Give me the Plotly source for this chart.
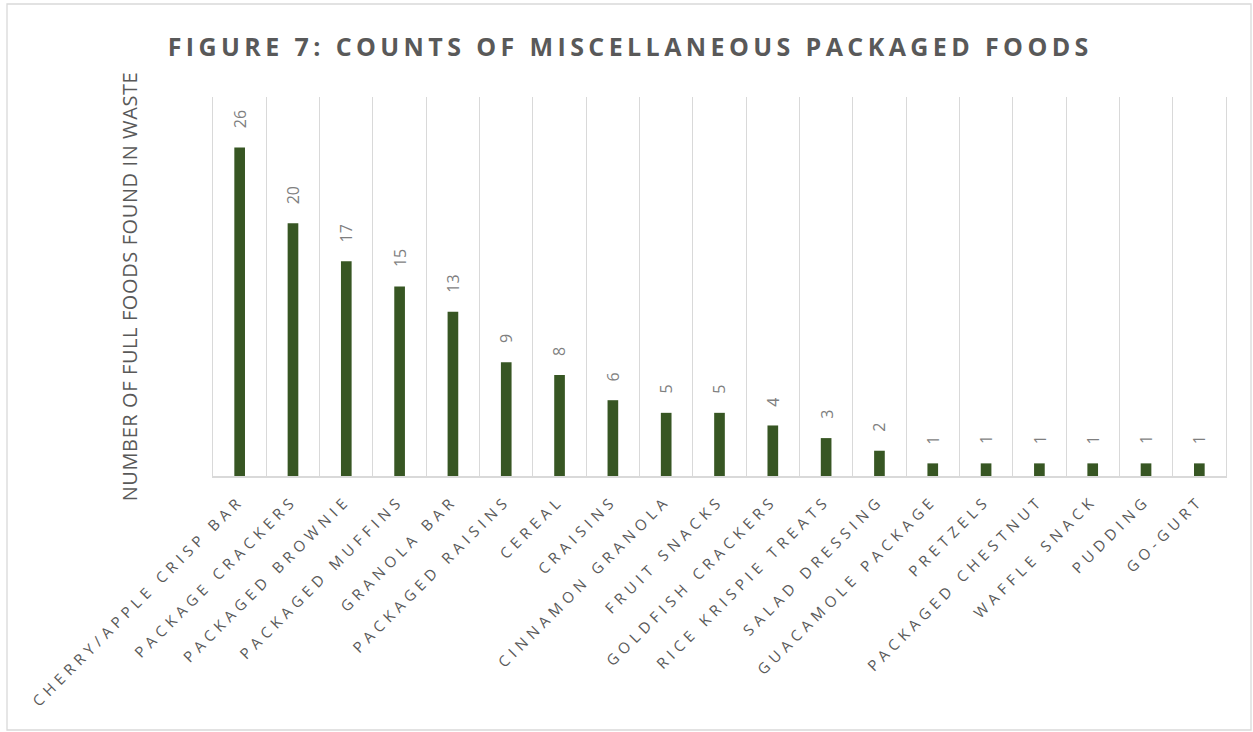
import plotly.graph_objects as go

categories = [
    "CHERRY/APPLE CRISP BAR", "PACKAGE CRACKERS", "PACKAGED BROWNIE",
    "PACKAGED MUFFINS", "GRANOLA BAR", "PACKAGED RAISINS", "CEREAL",
    "CRAISINS", "CINNAMON GRANOLA", "FRUIT SNACKS", "GOLDFISH CRACKERS",
    "RICE KRISPIE TREATS", "SALAD DRESSING", "GUACAMOLE PACKAGE",
    "PRETZELS", "PACKAGED CHESTNUT", "WAFFLE SNACK", "PUDDING", "GO-GURT",
]
counts = [26, 20, 17, 15, 13, 9, 8, 6, 5, 5, 4, 3, 2, 1, 1, 1, 1, 1, 1]

title_text = "FIGURE 7: COUNTS OF MISCELLANEOUS PACKAGED FOODS"
y_title = "NUMBER OF FULL FOODS FOUND IN WASTE"

BAR = "#375623"
GRID = "#d9d9d9"
TXT = "#595959"
FONT = "Open Sans"

fig = go.Figure()
fig.add_trace(go.Bar(
    x=categories, y=counts, width=0.2,
    marker=dict(color=BAR, line=dict(width=0)),
    hoverinfo="x+y",
))

for c, v in zip(categories, counts):
    fig.add_annotation(
        x=c, y=v, text=str(v), showarrow=False, textangle=-90,
        xref="x", yref="y", yanchor="bottom", yshift=17,
        font=dict(family=FONT, size=16, color="#7f7f7f"),
    )

fig.update_layout(
    width=1253, height=732,
    margin=dict(l=213, r=27, t=97, b=256),
    paper_bgcolor="white", plot_bgcolor="white",
    showlegend=False,
    title=dict(
        text="<b>" + title_text + "</b>",
        x=0.503, xanchor="center", y=1 - 47 / 732, yanchor="middle",
        font=dict(family=FONT, size=25, color=TXT),
    ),
    xaxis=dict(
        type="category", tickson="boundaries", showgrid=True,
        gridcolor=GRID, gridwidth=1.3, ticks="", tickangle=-45,
        ticklabelstandoff=8,
        tickfont=dict(family=FONT, size=15, color=TXT),
        showline=True, linecolor=GRID, linewidth=1.5,
        range=[-0.5, len(categories) - 0.5], fixedrange=True,
    ),
    yaxis=dict(
        range=[0, 30], showgrid=False, showticklabels=False, ticks="",
        zeroline=False, showline=True, mirror=True, linecolor=GRID,
        linewidth=1.3, fixedrange=True,
        title=dict(text=y_title, standoff=68,
                   font=dict(family=FONT, size=20, color=TXT)),
    ),
    shapes=[dict(
        type="rect", xref="paper", yref="paper",
        x0=(7 - 213) / 1013, x1=(1251 - 213) / 1013,
        y0=(476 - 730) / 379, y1=(476 - 4) / 379,
        line=dict(color=GRID, width=1.3), fillcolor="rgba(0,0,0,0)",
        layer="below",
    )],
)

post = """
document.body.style.margin = '0';
document.body.style.padding = '0';
var gd = document.getElementById('{plot_id}');
function spaceIt(){
  gd.querySelectorAll('.gtitle').forEach(function(e){e.style.letterSpacing='4.4px';});
  gd.querySelectorAll('.xtick text').forEach(function(e){e.style.letterSpacing='5px';});
  gd.querySelectorAll('.ytitle').forEach(function(e){e.style.letterSpacing='0.6px';});
}
spaceIt();
gd.on('plotly_afterplot', spaceIt);
"""

fig.write_html("out.html", post_script=post,
               config={"displayModeBar": False, "staticPlot": False})
